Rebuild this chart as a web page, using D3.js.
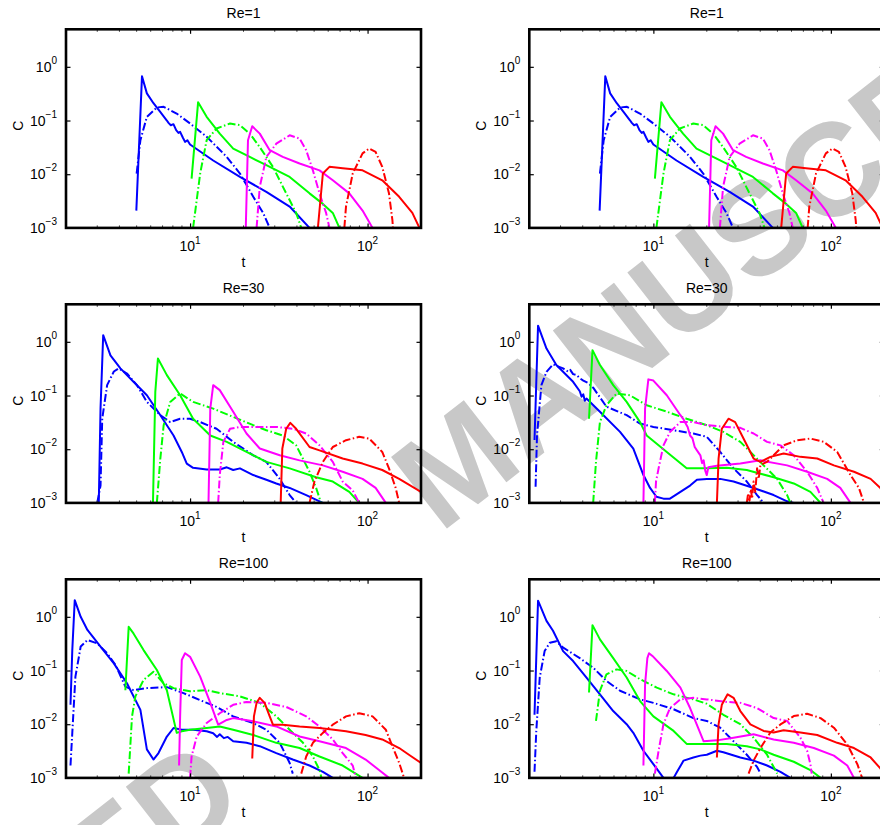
<!DOCTYPE html>
<html>
<head>
<meta charset="utf-8">
<script src="https://cdn.jsdelivr.net/npm/d3@7"></script>
<style>
html,body{margin:0;padding:0;background:#fff;overflow:hidden;}
svg{display:block;}
text{font-family:"Liberation Sans",Arial,Helvetica,sans-serif;}
</style>
</head>
<body>
<svg id="chart" width="880" height="825"></svg>
<script>
// ---------------- data ----------------
const titles = ["Re=1", "Re=1", "Re=30", "Re=30", "Re=100", "Re=100"];
const xTickValues = [10, 100];
const yTickValues = [1e-3, 1e-2, 1e-1, 1];
const xTickLabels = [["10","1"],["10","2"]];
const yTickLabels = [["10","\u22123"],["10","\u22122"],["10","\u22121"],["10","0"]];
const seriesColors = ["#0000ff", "#00ff00", "#ff00ff", "#ff0000"];
const watermarkWords = ["ACCEPTED", "MANUSCRIPT"];

// Re=1 (both columns)
const re1_blue_solid = [[4.98,0.0021],[5.36,0.67],[5.71,0.32],[6.22,0.21],[6.79,0.145],[7.4,0.1],[7.56,0.0905],[7.79,0.0818],[8.06,0.0855],[8.35,0.066],[8.6,0.0589],[8.79,0.0615],[9.1,0.0482],[9.37,0.04],[9.66,0.043],[10,0.0357],[13.5,0.018],[19.1,0.0089],[26.9,0.0047],[36.4,0.0025],[47.1,0.001]];
const re1_blue_dd = [[5.0,0.0103],[5.25,0.043],[5.71,0.117],[6.5,0.175],[7.1,0.18],[8.4,0.135],[10,0.088],[12.4,0.05],[16.1,0.021],[19.1,0.0103],[22.7,0.0038],[25.8,0.0019],[28.1,0.001]];
const re1_green_solid = [[10.2,0.0083],[11.1,0.22],[12.4,0.117],[14.7,0.057],[17.5,0.03],[21.7,0.021],[26.9,0.0147],[36.4,0.0089],[47.1,0.0044],[56,0.0028],[63.7,0.0019],[69.4,0.001]];
const re1_green_dd = [[10.4,0.001],[11.4,0.0103],[12.4,0.043],[14.1,0.071],[16.8,0.088],[19.1,0.082],[21.7,0.057],[24.7,0.032],[29.3,0.0137],[34.8,0.0044],[39.6,0.0019],[42.3,0.001]];
const re1_mag_solid = [[20.6,0.001],[21.2,0.043],[22.4,0.078],[24.7,0.057],[28.1,0.028],[33.3,0.021],[41.4,0.0158],[53.6,0.0118],[63.7,0.0077],[78.9,0.0044],[93.7,0.0021],[106.7,0.001]];
const re1_mag_dd = [[23.7,0.001],[24.7,0.0058],[26.9,0.021],[30.6,0.037],[36.4,0.053],[41.4,0.046],[45.1,0.028],[49.2,0.0118],[53.6,0.0044],[58.4,0.0019],[61,0.001]];
const re1_red_solid = [[52.5,0.001],[56,0.0103],[61,0.0137],[72.4,0.0129],[93.7,0.0118],[121,0.0077],[150.7,0.0038],[178.8,0.0019],[196,0.001]];
const re1_red_dd = [[74,0.001],[75.6,0.0025],[82.5,0.0103],[93.7,0.0244],[102,0.03],[111,0.026],[121,0.0137],[132,0.0044],[138,0.0014],[139,0.001]];

// Re=30 left
const re30a_blue_solid = [[3.06,0.001],[3.13,0.057],[3.24,1.33],[3.56,0.56],[4.05,0.32],[4.8,0.18],[5.71,0.101],[6.8,0.043],[8.07,0.018],[8.98,0.0089],[9.58,0.0054],[10.4,0.0045],[12.4,0.0042],[14.7,0.0042],[16.1,0.0046],[17.5,0.0041],[19.1,0.0044],[22.7,0.0033],[26.9,0.0027],[30.6,0.0023],[36.4,0.0019],[45.1,0.0014],[56,0.001]];
const re30a_blue_dd = [[3.0,0.001],[3.13,0.0021],[3.2,0.037],[3.41,0.156],[3.72,0.28],[3.96,0.32],[4.41,0.257],[5.02,0.156],[5.71,0.076],[6.8,0.043],[7.73,0.032],[8.79,0.037],[10,0.037],[11.4,0.032],[14.1,0.024],[17.5,0.0137],[22.7,0.0077],[26.9,0.0058],[32,0.0028],[36.4,0.0014],[39.6,0.001]];
const re30a_green_solid = [[6.18,0.001],[6.37,0.117],[6.59,0.49],[7.4,0.24],[8.79,0.101],[10.4,0.037],[13,0.018],[16.1,0.0137],[20.8,0.0089],[26.9,0.0058],[36.4,0.0044],[51.3,0.003],[63.7,0.0025],[78.9,0.0016],[89.7,0.001]];
const re30a_green_dd = [[6.5,0.001],[6.8,0.0067],[7.1,0.028],[7.73,0.076],[8.79,0.109],[10.4,0.076],[13.5,0.057],[17.5,0.04],[22.7,0.028],[26.9,0.0226],[33.3,0.018],[39.6,0.0118],[47.1,0.0038],[51.3,0.0019],[54.7,0.001]];
const re30a_mag_solid = [[12.7,0.001],[13,0.057],[13.5,0.156],[14.7,0.126],[17.5,0.05],[20.8,0.0196],[24.7,0.0103],[32,0.0077],[41.4,0.0062],[56,0.005],[72.4,0.0038],[93.7,0.0028],[111,0.0019],[126.7,0.001]];
const re30a_mag_dd = [[14.4,0.001],[14.7,0.0033],[15.4,0.0137],[16.8,0.024],[19.1,0.026],[24.7,0.026],[30.6,0.026],[38,0.024],[45.1,0.0196],[53.6,0.0118],[63.7,0.0058],[72.4,0.0025],[82.5,0.0017],[89.7,0.001]];
const re30a_red_solid = [[32.4,0.001],[33.1,0.0103],[34.8,0.024],[36.7,0.031],[39.6,0.024],[47.1,0.011],[53.6,0.0095],[72.4,0.0067],[93.7,0.0054],[121,0.0041],[150.7,0.0028],[200,0.0016]];
const re30a_red_dd = [[47.1,0.001],[50.2,0.0025],[56,0.0058],[63.7,0.011],[75.6,0.0147],[89.7,0.017],[102,0.0158],[121,0.0089],[132,0.0044],[144,0.0019],[150.7,0.001]];

// Re=30 right
const re30b_blue_solid = [[2.14,0.0148],[2.24,2.0],[2.5,0.75],[2.84,0.37],[3.53,0.18],[3.85,0.12],[3.94,0.095],[4.03,0.105],[4.11,0.08],[4.2,0.088],[5,0.05],[6.49,0.021],[7.71,0.0103],[8.79,0.0033],[9.58,0.0019],[10.4,0.0013],[11.4,0.0012],[12.4,0.0012],[14.2,0.0016],[16.1,0.0021],[17.6,0.0027],[20,0.0028],[23.8,0.0028],[28.3,0.0025],[36.7,0.0019],[47.6,0.0014],[56.7,0.00107],[61.8,0.001]];
const re30b_blue_dd = [[2.17,0.002],[2.21,0.018],[2.34,0.156],[2.5,0.276],[2.72,0.38],[3.1,0.32],[3.3,0.28],[3.4,0.3],[3.53,0.25],[3.7,0.24],[3.85,0.21],[4.03,0.19],[4.3,0.17],[4.58,0.14],[5.44,0.062],[7.07,0.043],[8.41,0.03],[10,0.026],[13,0.0226],[16.8,0.0196],[20,0.017],[23.8,0.0089],[28.3,0.0044],[33.6,0.0025],[38.4,0.0014],[41.8,0.001]];
const re30b_green_solid = [[4.34,0.037],[4.54,0.7],[5,0.37],[5.94,0.156],[7.07,0.076],[8.41,0.032],[9.17,0.018],[11.9,0.0089],[15.4,0.0044],[20,0.0044],[25.9,0.0045],[33.6,0.0041],[40.1,0.0035],[47.6,0.003],[61.8,0.0023],[76.7,0.0016],[87.5,0.001]];
const re30b_green_dd = [[4.58,0.001],[4.75,0.0058],[5,0.032],[5.44,0.066],[6.21,0.109],[7.38,0.101],[9.17,0.066],[11.9,0.05],[15.4,0.037],[20,0.028],[24.8,0.021],[30.9,0.0137],[35.2,0.0089],[41.8,0.005],[49.8,0.0028],[56.7,0.0014],[59.2,0.001]];
const re30b_mag_solid = [[8.79,0.001],[8.98,0.057],[9.37,0.2],[10,0.19],[11.9,0.101],[14.2,0.043],[14.8,0.036],[15.2,0.03],[15.6,0.026],[16.1,0.018],[16.6,0.016],[17.1,0.011],[17.6,0.0095],[18.4,0.0077],[18.8,0.0055],[19.2,0.0062],[19.6,0.004],[20,0.0033],[20.4,0.0046],[22.8,0.0049],[30.9,0.0054],[40.1,0.0062],[56.7,0.005],[73.5,0.0038],[95.3,0.0028],[113,0.0019],[129,0.001]];
const re30b_mag_dd = [[10.2,0.001],[10.35,0.0025],[10.7,0.0044],[11.4,0.0118],[12.4,0.021],[14.2,0.032],[16.8,0.032],[20,0.028],[25.9,0.026],[30.9,0.025],[36.7,0.0196],[43.7,0.0137],[52,0.0118],[61.8,0.0077],[73.5,0.0038],[83.8,0.0019],[91,0.001]];
const re30b_red_solid = [[22.8,0.001],[23.3,0.0067],[24.3,0.024],[26.5,0.037],[28.9,0.032],[32.2,0.0158],[36.7,0.0067],[40.1,0.0058],[45.6,0.0072],[54.2,0.0083],[67.4,0.0072],[83.8,0.0067],[104,0.005],[135,0.0038],[167.5,0.0028],[190,0.0019],[200,0.0013]];
const re30b_red_dd = [[33.6,0.001],[34.2,0.0015],[34.8,0.0011],[35.4,0.0018],[36,0.0012],[36.7,0.0025],[37.5,0.0016],[38.4,0.0044],[39.2,0.0028],[40.1,0.0051],[43.7,0.0058],[47.6,0.0077],[54.2,0.0118],[64.6,0.0147],[76.7,0.0158],[91.2,0.0137],[108.6,0.0089],[129,0.0033],[143.9,0.0019],[153.6,0.001]];

// Re=100 left
const re100a_blue_solid = [[2.12,0.023],[2.17,0.24],[2.24,2.04],[2.42,1.0],[2.64,0.57],[3.13,0.28],[3.72,0.136],[4.41,0.058],[5.25,0.0185],[5.71,0.0034],[6.22,0.0022],[6.64,0.0029],[7.4,0.0059],[8.07,0.0085],[8.98,0.0079],[10.4,0.0079],[12.4,0.0074],[13.5,0.0068],[14.2,0.0058],[14.7,0.0065],[15.5,0.0055],[16.3,0.0058],[17.5,0.0048],[20.8,0.0045],[24.7,0.0039],[30.6,0.0029],[37.9,0.0022],[47.1,0.0017],[56,0.0013],[63.7,0.001]];
const re100a_blue_dd = [[2.12,0.0017],[2.17,0.0069],[2.26,0.077],[2.42,0.28],[2.64,0.37],[3.0,0.32],[3.41,0.21],[3.8,0.127],[4.32,0.05],[4.8,0.043],[5.71,0.047],[7.4,0.049],[9.18,0.038],[11.4,0.028],[14.1,0.021],[17.5,0.014],[22.7,0.0105],[26.9,0.0079],[32,0.0045],[36.4,0.0019],[37.9,0.0012]];
const re100a_green_solid = [[4.32,0.043],[4.51,0.65],[4.8,0.49],[5.47,0.24],[6.5,0.102],[7.4,0.043],[8.41,0.0069],[8.98,0.0074],[10,0.0079],[12.4,0.0085],[14.7,0.0091],[17.5,0.0079],[22.7,0.0063],[30.6,0.0045],[41.4,0.0036],[53.6,0.0025],[72.4,0.0017],[93.7,0.001]];
const re100a_green_dd = [[4.51,0.0012],[4.71,0.014],[4.92,0.033],[5.47,0.067],[6.22,0.095],[7.08,0.058],[8.07,0.047],[10,0.041],[12.4,0.043],[14.7,0.038],[19.1,0.033],[24.7,0.025],[30.6,0.014],[36.4,0.0079],[43.3,0.0045],[49.2,0.0025],[53.6,0.0014],[55,0.001]];
const re100a_mag_solid = [[8.67,0.0017],[8.79,0.014],[8.98,0.157],[9.37,0.21],[10,0.18],[11.4,0.077],[13,0.025],[14.4,0.0098],[16.1,0.012],[17.5,0.013],[22.7,0.0113],[30.6,0.0091],[41.4,0.0059],[53.6,0.0048],[75.6,0.0036],[97.5,0.0022],[116,0.0014],[132,0.001]];
const re100a_mag_dd = [[10,0.001],[10.2,0.0025],[10.9,0.0059],[12.4,0.0105],[14.7,0.016],[17.5,0.023],[20.8,0.026],[26.9,0.025],[34.8,0.021],[45.1,0.014],[53.6,0.0091],[63.7,0.0052],[72.4,0.0029],[82.5,0.0017],[86,0.001]];
const re100a_red_solid = [[22.4,0.0023],[22.9,0.014],[23.7,0.025],[24.7,0.031],[26.3,0.025],[28.1,0.014],[29.3,0.0098],[33.3,0.0098],[41.4,0.0091],[53.6,0.0085],[75.6,0.0074],[97.5,0.0063],[121,0.0052],[150.7,0.0036],[171,0.0027],[200,0.0019]];
const re100a_red_dd = [[42.3,0.0012],[45.1,0.0025],[49.2,0.0045],[56,0.0069],[63.7,0.0098],[75.6,0.014],[89.7,0.016],[106.7,0.014],[126.7,0.0079],[138,0.0039],[150.7,0.0019],[160.6,0.001]];

// Re=100 right
const re100b_blue_solid = [[2.14,0.015],[2.24,2.0],[2.5,0.84],[2.72,0.55],[3.1,0.23],[3.53,0.15],[4.2,0.074],[5,0.036],[5.94,0.0176],[7.07,0.01],[7.71,0.0069],[8.79,0.0032],[10,0.0018],[11.4,0.001],[12,0.0008],[12.6,0.0008],[13,0.001],[13.6,0.0013],[14.8,0.0021],[16.8,0.0024],[18.4,0.0026],[20,0.0027],[22.8,0.0032],[24.8,0.003],[30.9,0.0024],[36.7,0.0021],[43.7,0.0017],[52,0.0013],[59.2,0.001]];
const re100b_blue_dd = [[2.14,0.0013],[2.19,0.0075],[2.29,0.074],[2.44,0.23],[2.61,0.33],[2.84,0.35],[3.09,0.27],[3.85,0.17],[4.58,0.113],[5.44,0.064],[6.49,0.042],[8.41,0.029],[10,0.025],[13,0.019],[16.8,0.013],[20,0.0115],[23.8,0.0086],[28.3,0.0048],[33.6,0.0027],[38.4,0.0016],[40.2,0.0012]];
const re100b_green_solid = [[4.34,0.039],[4.54,0.7],[5,0.38],[5.94,0.17],[7.07,0.074],[8.41,0.027],[10,0.014],[13,0.0075],[15.4,0.0043],[20,0.0043],[25.9,0.0043],[33.6,0.0039],[40.1,0.0034],[47.6,0.0027],[61.8,0.002],[76.7,0.0014],[87.5,0.001]];
const re100b_green_dd = [[4.75,0.0115],[5,0.042],[5.44,0.085],[6.21,0.105],[7.07,0.098],[8.41,0.069],[10.45,0.048],[13,0.036],[16.8,0.029],[20,0.024],[24.8,0.015],[30.9,0.01],[36.7,0.0056],[43.7,0.0027],[47.6,0.0016],[49.8,0.0012]];
const re100b_mag_solid = [[8.79,0.0017],[8.98,0.055],[9.25,0.17],[9.45,0.21],[10,0.18],[11.9,0.098],[14.2,0.048],[16.1,0.02],[19.2,0.0048],[22.8,0.005],[28.3,0.0056],[36.7,0.0065],[47.6,0.0052],[61.8,0.0045],[80.2,0.0036],[104,0.0026],[123.7,0.0017],[135,0.001]];
const re100b_mag_dd = [[10.2,0.0012],[10.7,0.0032],[11.4,0.01],[12.4,0.02],[14.2,0.029],[16.8,0.031],[20,0.029],[25.9,0.026],[30.9,0.025],[38.4,0.02],[47.6,0.013],[56.7,0.0115],[67.4,0.0056],[73.5,0.0032],[76.7,0.0018],[78,0.0012]];
const re100b_red_solid = [[22.8,0.0024],[23.3,0.0099],[24.3,0.023],[26.2,0.036],[28.3,0.031],[30.9,0.0176],[35.2,0.0099],[41.8,0.0075],[47.6,0.007],[54.2,0.0077],[67.4,0.007],[83.8,0.0063],[108.6,0.0045],[135,0.0036],[167.5,0.0024],[190,0.0015],[200,0.0012]];
const re100b_red_dd = [[34.4,0.0012],[36.7,0.0021],[40.1,0.0036],[45.6,0.007],[52,0.0099],[61.8,0.0142],[73.5,0.0157],[87.5,0.013],[104,0.0086],[123.7,0.0042],[141,0.0018],[150,0.001]];

const panelSeries = [
  [re1_blue_solid, re1_blue_dd, re1_green_solid, re1_green_dd, re1_mag_solid, re1_mag_dd, re1_red_solid, re1_red_dd],
  [re1_blue_solid, re1_blue_dd, re1_green_solid, re1_green_dd, re1_mag_solid, re1_mag_dd, re1_red_solid, re1_red_dd],
  [re30a_blue_solid, re30a_blue_dd, re30a_green_solid, re30a_green_dd, re30a_mag_solid, re30a_mag_dd, re30a_red_solid, re30a_red_dd],
  [re30b_blue_solid, re30b_blue_dd, re30b_green_solid, re30b_green_dd, re30b_mag_solid, re30b_mag_dd, re30b_red_solid, re30b_red_dd],
  [re100a_blue_solid, re100a_blue_dd, re100a_green_solid, re100a_green_dd, re100a_mag_solid, re100a_mag_dd, re100a_red_solid, re100a_red_dd],
  [re100b_blue_solid, re100b_blue_dd, re100b_green_solid, re100b_green_dd, re100b_mag_solid, re100b_mag_dd, re100b_red_solid, re100b_red_dd]
];

// ---------------- layout ----------------
const svg = d3.select("#chart");
const colLeft = [66, 529.3];
const rowTop = [29.3, 304.3, 579.3];
const W = 355, H = 198.6;

// watermark (behind everything)
const wmStyle = sel => sel.attr("fill", "#c8c8c8").style("font-weight", "bold").style("font-size", "132px");
svg.append("g").attr("transform", "translate(440,534) rotate(-38)").call(wmStyle)
  .append("text").attr("x", 0).attr("y", 0).attr("text-anchor", "start").text(watermarkWords[1]);
svg.append("g").attr("transform", "translate(250,805) rotate(-38)").call(wmStyle)
  .append("text").attr("x", 0).attr("y", 0).attr("text-anchor", "end").text(watermarkWords[0]);

const defs = svg.append("defs");

panelSeries.forEach((series, i) => {
  const col = i % 2, row = Math.floor(i / 2);
  const L = colLeft[col], T = rowTop[row];
  const x = d3.scaleLog().domain([2, 200]).range([L, L + W]);
  const y = d3.scaleLog().domain([1e-3, 5]).range([T + H, T]);
  const g = svg.append("g");

  defs.append("clipPath").attr("id", "clip" + i)
    .append("rect").attr("x", L).attr("y", T).attr("width", W).attr("height", H);

  const line = d3.line().x(d => x(d[0])).y(d => y(d[1]));
  const curves = g.append("g").attr("clip-path", "url(#clip" + i + ")");
  series.forEach((s, k) => {
    const color = seriesColors[Math.floor(k / 2)];
    const dd = k % 2 === 1;
    curves.append("path").datum(s).attr("d", line)
      .attr("fill", "none").attr("stroke", color)
      .attr("stroke-width", 2)
      .attr("stroke-linejoin", "round")
      .attr("stroke-dasharray", dd ? "8,2.5,1.5,2.5" : null);
  });

  // minor ticks (x), inside, top and bottom
  const minorX = [];
  [1, 10, 100].forEach(d => { for (let m = 2; m <= 9; m++) { const v = m * d; if (v > 2 && v < 200 && v !== 10 && v !== 100) minorX.push(v); } });
  const tk = g.append("g").attr("stroke", "#444").attr("stroke-width", 1);
  minorX.forEach(v => {
    tk.append("line").attr("x1", x(v)).attr("x2", x(v)).attr("y1", T + H).attr("y2", T + H - 2.5);
    tk.append("line").attr("x1", x(v)).attr("x2", x(v)).attr("y1", T).attr("y2", T + 2.5);
  });

  // major ticks via d3 axes (inside)
  const axB = d3.axisBottom(x).tickValues(xTickValues).tickSize(-4.5).tickFormat(() => "");
  const axT = d3.axisTop(x).tickValues(xTickValues).tickSize(-4.5).tickFormat(() => "");
  const axL = d3.axisLeft(y).tickValues(yTickValues).tickSize(-4.5).tickFormat(() => "");
  const axR = d3.axisRight(y).tickValues(yTickValues).tickSize(-4.5).tickFormat(() => "");
  [[axB, `translate(0,${T + H})`], [axT, `translate(0,${T})`], [axL, `translate(${L},0)`], [axR, `translate(${L + W},0)`]]
    .forEach(([ax, tr]) => {
      const a = g.append("g").attr("transform", tr).call(ax);
      a.select(".domain").remove();
      a.selectAll(".tick line").attr("stroke", "#000").attr("stroke-width", 1.2);
    });

  // frame
  g.append("rect").attr("x", L).attr("y", T).attr("width", W).attr("height", H)
    .attr("fill", "none").attr("stroke", "#000").attr("stroke-width", 2.6);

  // x tick labels
  xTickValues.forEach((v, j) => {
    const t = g.append("text").attr("x", x(v)).attr("y", T + H + 23)
      .attr("text-anchor", "middle").style("font-size", "14px").attr("fill", "#000");
    t.append("tspan").text(xTickLabels[j][0]);
    t.append("tspan").attr("dy", -7).style("font-size", "10px").text(xTickLabels[j][1]);
  });
  // y tick labels
  yTickValues.forEach((v, j) => {
    const t = g.append("text").attr("x", L - 9).attr("y", y(v) + 5)
      .attr("text-anchor", "end").style("font-size", "14px").attr("fill", "#000");
    t.append("tspan").text(yTickLabels[j][0]);
    t.append("tspan").attr("dy", -8).style("font-size", "10px").text(yTickLabels[j][1]);
  });

  // title & axis labels
  g.append("text").attr("x", L + W / 2).attr("y", T - 11).attr("text-anchor", "middle")
    .style("font-size", "14px").text(titles[i]);
  g.append("text").attr("x", L + W / 2).attr("y", T + H + 39).attr("text-anchor", "middle")
    .style("font-size", "14px").text("t");
  g.append("text").attr("transform", `translate(${L - 43},${T + H / 2 - 3}) rotate(-90)`)
    .attr("text-anchor", "middle").style("font-size", "14px").text("C");
});
</script>
</body>
</html>
